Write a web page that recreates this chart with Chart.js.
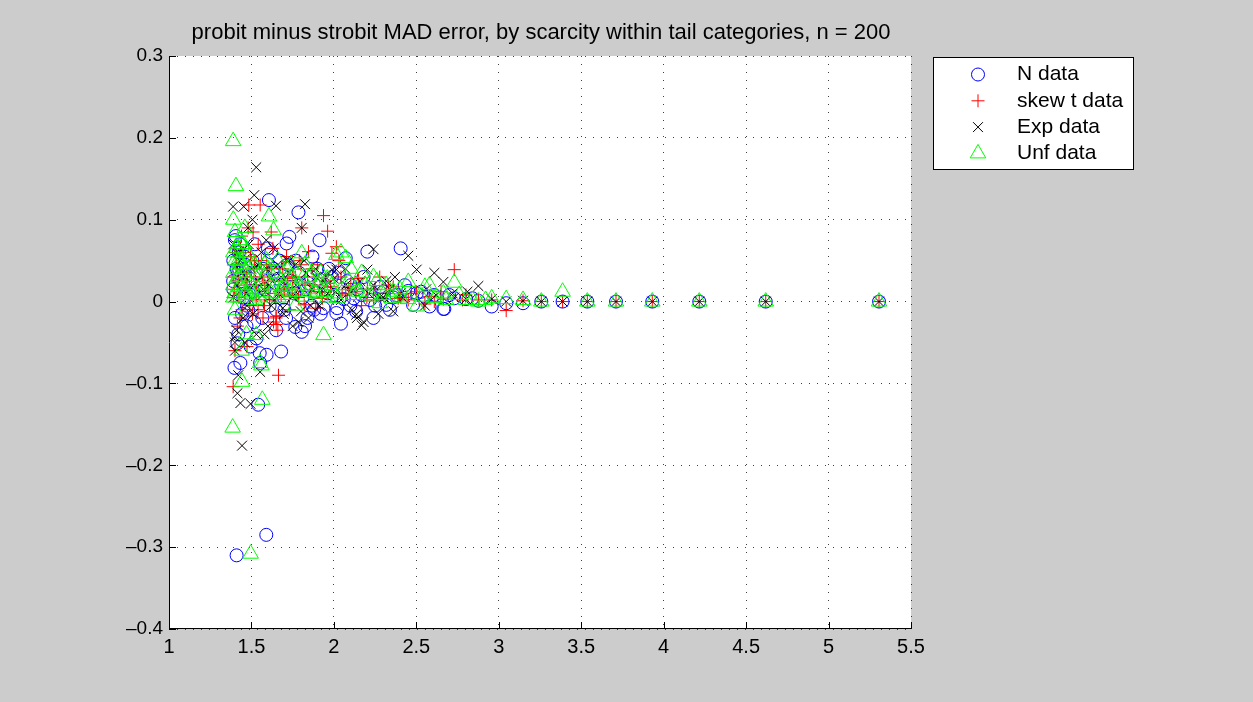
<!DOCTYPE html>
<html>
<head>
<meta charset="utf-8">
<title>probit minus strobit MAD error</title>
<script src="https://cdn.jsdelivr.net/npm/chart.js@4.4.1/dist/chart.umd.min.js"></script>
<style>
  html, body { margin: 0; padding: 0; background: #cccccc; }
  #wrap { width: 1253px; height: 702px; }
</style>
</head>
<body>
<div id="wrap"><canvas id="madChart"></canvas></div>
<script>
// scarcity of each tail category (x positions of the columns)
const scarcity = [
  5.306, 4.619, 4.216, 3.931, 3.711, 3.537, 3.387, 3.258, 3.147, 3.045,
  2.957, 2.876, 2.801, 2.730, 2.664, 2.609, 2.552, 2.502, 2.451, 2.405,
  2.360, 2.318, 2.278, 2.240, 2.203, 2.168, 2.135, 2.103, 2.072, 2.043,
  2.015, 1.988, 1.962, 1.937, 1.913, 1.890, 1.868, 1.846, 1.825, 1.805,
  1.785, 1.766, 1.748, 1.730, 1.713, 1.696, 1.680, 1.664, 1.649, 1.634,
  1.620, 1.606, 1.592, 1.579, 1.566, 1.553, 1.541, 1.529, 1.517, 1.506,
  1.495, 1.484, 1.473, 1.463, 1.453, 1.443, 1.433, 1.424, 1.415, 1.406,
  1.397, 1.389
];

// MAD error difference per column, one array per generating distribution
const nDataY = [
  0, 0, 0, 0, 0, 0, 0, 0, -0.002, -0.002,
  -0.006, 0.001, 0.003, 0.004, -0.009, 0.008, 0.006, 0.010, 0.013, 0.065,
  0.005, -0.004, 0.012, -0.020, 0.061, 0.008, -0.012, 0.020, 0.053, -0.027,
  -0.014, 0.030, 0.010, -0.008, 0.075, 0.012, -0.005, 0.022, -0.030, -0.037,
  0.109, -0.031, 0.018, 0.079, 0.071, 0.005, -0.061, 0.028, -0.010, 0.040,
  0.060, 0.124, -0.065, 0.015, -0.020, -0.075, -0.126, 0.035, -0.025, 0.050,
  -0.055, 0.010, -0.005, 0.045, 0.020, -0.015, -0.075, 0.060, -0.051, 0.080,
  -0.081, 0.025
];
const skewTY = [
  0, 0, 0, 0, 0, 0, 0, 0, 0.001, -0.011,
  0.002, 0.002, 0.008, 0.039, 0.003, 0.000, -0.003, 0.012, 0.002, 0.005,
  0.018, 0.010, 0.030, 0.002, 0.015, -0.005, 0.012, 0.022, 0.008, 0.030,
  0.067, 0.059, 0.086, 0.105, 0.012, -0.008, 0.040, 0.061, 0.020, 0.090,
  0.005, 0.030, 0.015, -0.010, 0.055, 0.025, 0.008, -0.090, -0.020, -0.025,
  0.085, 0.010, 0.045, -0.005, 0.030, 0.118, 0.070, 0.002, 0.040, -0.015,
  0.055, 0.118, -0.055, 0.020, 0.035, -0.010, 0.065, 0.005, -0.030, 0.045,
  0.015, -0.104
];
const expY = [
  0, 0, 0, 0, 0, 0, 0, 0, 0.001, 0.000,
  0.003, 0.019, 0.003, 0.005, 0.024, 0.035, -0.005, 0.039, 0.056, 0.010,
  -0.012, 0.025, 0.005, 0.064, 0.039, -0.029, -0.016, 0.012, 0.020, 0.002,
  0.039, 0.039, 0.010, 0.025, -0.005, 0.030, 0.015, -0.020, 0.119, 0.090,
  -0.025, 0.045, 0.006, 0.050, 0.051, -0.015, 0.030, 0.010, 0.117, 0.065,
  -0.005, 0.020, 0.040, -0.040, 0.008, -0.086, 0.025, 0.164, 0.130, 0.100,
  -0.125, 0.070, -0.005, 0.030, 0.116, -0.176, -0.124, 0.040, -0.112, 0.060,
  -0.043, 0.116
];
const unfY = [
  0, 0, 0, 0, 0, 0, 0.012, 0, 0.002, 0.003,
  0.004, 0.000, 0.002, 0.023, 0.010, 0.004, 0.018, -0.006, 0.024, 0.005,
  0.012, 0.020, -0.002, 0.030, 0.008, 0.035, 0.015, 0.040, 0.053, 0.060,
  0.057, 0.020, 0.005, -0.041, 0.025, 0.010, 0.035, 0.015, 0.045, 0.059,
  0.020, -0.005, 0.030, 0.012, 0.040, 0.018, 0.025, 0.005, 0.035, 0.087,
  0.020, 0.104, 0.050, 0.030, -0.120, -0.075, 0.015, -0.041, 0.045, 0.010,
  -0.308, 0.025, 0.060, 0.008, 0.070, -0.098, 0.050, 0.030, 0.040, 0.141,
  0.010, 0.196
];

// further points (scarcity, difference), mostly in the crowded low-scarcity area
const nExtra = [
  [1.41, -0.31], [1.59, -0.285], [1.40, 0.075], [1.42, 0.035], [1.45, 0.005],
  [1.49, 0.028], [1.55, -0.063], [1.60, 0.065], [1.68, 0.02], [1.72, 0.045],
  [1.76, 0.01], [1.81, 0.005], [1.86, 0.03], [1.95, 0.015], [2.00, 0.008],
  [2.06, 0.003], [2.14, 0.015], [2.25, -0.005], [2.30, 0.012], [1.39, 0.05],
  [1.43, 0.07], [1.47, -0.03], [1.52, 0.07], [1.57, 0.04], [1.65, -0.035],
  [1.70, -0.01], [1.77, 0.05], [1.84, -0.02], [1.90, 0.04], [2.03, 0.035],
  [2.10, -0.005], [1.88, -0.01], [2.67, -0.009],
  [1.39, 0.015], [1.40, -0.02], [1.41, 0.04], [1.42, -0.04], [1.44, 0.025],
  [1.46, 0.055], [1.48, -0.01], [1.51, 0.012], [1.53, -0.045], [1.56, 0.02],
  [1.61, -0.005], [1.63, 0.035], [1.67, 0.05], [1.71, -0.02], [1.74, 0.025],
  [1.79, 0.035], [1.83, 0.015], [1.87, 0.055], [1.92, -0.015], [1.97, 0.04],
  [2.02, -0.008], [2.08, 0.025], [2.12, 0.004], [2.18, 0.03], [2.22, 0.002],
  [2.28, 0.018], [2.34, -0.01], [2.38, 0.008], [2.43, 0.02], [2.48, -0.004],
  [2.53, 0.012], [2.58, -0.006], [2.70, 0.008], [2.84, 0.004]
];
const skewTExtra = [
  [1.65, -0.018], [1.65, -0.028], [1.66, -0.035], [1.40, 0.06], [1.40, -0.06],
  [1.42, 0.025], [1.44, 0.08], [1.46, 0.01], [1.50, 0.03], [1.54, -0.01],
  [1.58, 0.02], [1.62, 0.04], [1.70, 0.015], [1.75, 0.03], [1.80, 0.045],
  [1.88, 0.02], [1.95, 0.025], [2.05, 0.01], [2.20, 0.005], [1.39, 0.03],
  [1.48, 0.09], [1.52, 0.05], [1.57, -0.02], [1.61, 0.002], [1.73, 0.006],
  [1.82, -0.004],
  [1.39, 0.005], [1.41, 0.045], [1.43, -0.02], [1.45, 0.06], [1.47, 0.03],
  [1.49, -0.005], [1.51, 0.085], [1.53, 0.02], [1.56, 0.05], [1.60, 0.025],
  [1.63, 0.065], [1.67, 0.012], [1.69, 0.04], [1.72, 0.028], [1.77, 0.008],
  [1.79, 0.05], [1.84, 0.03], [1.86, 0.012], [1.90, 0.045], [1.93, 0.004],
  [1.98, 0.018], [2.03, 0.05], [2.09, 0.015], [2.15, 0.028], [2.25, 0.015],
  [2.33, 0.02], [2.39, 0.004], [2.47, 0.01], [2.58, 0.006], [2.65, 0.012],
  [2.78, 0.002]
];
const expExtra = [
  [1.40, -0.06], [1.40, -0.05], [1.41, 0.02], [1.43, 0.05], [1.45, -0.02],
  [1.47, 0.01], [1.50, 0.04], [1.53, -0.04], [1.56, 0.06], [1.60, -0.03],
  [1.64, 0.002], [1.70, 0.02], [1.75, -0.03], [1.80, -0.012], [1.83, 0.035],
  [1.92, 0.015], [2.00, 0.028], [2.14, -0.02], [2.18, -0.025], [2.21, 0.01],
  [2.30, 0.005], [1.39, 0.07], [1.42, -0.09], [1.48, 0.09],
  [1.39, 0.005], [1.41, -0.035], [1.42, 0.06], [1.44, 0.035], [1.46, -0.05],
  [1.49, 0.015], [1.51, -0.015], [1.54, 0.045], [1.57, 0.015], [1.59, 0.075],
  [1.62, 0.03], [1.66, 0.045], [1.69, -0.008], [1.73, 0.035], [1.77, 0.02],
  [1.82, 0.05], [1.86, -0.005], [1.89, 0.04], [1.95, 0.03], [2.01, 0.012],
  [2.07, 0.04], [2.11, -0.01], [2.16, 0.025], [2.24, 0.02], [2.27, -0.015],
  [2.34, 0.015], [2.37, 0.03], [2.42, 0.004], [2.56, 0.015], [2.62, 0.008],
  [2.72, 0.01], [2.81, 0.012]
];
const unfExtra = [
  [1.386, -0.154], [1.39, 0.035], [1.39, 0.02], [1.40, 0.05], [1.40, -0.01],
  [1.41, 0.065], [1.42, 0.005], [1.43, 0.075], [1.44, 0.045], [1.45, 0.015],
  [1.46, 0.09], [1.48, 0.04], [1.50, 0.02], [1.55, 0.005], [1.58, 0.045],
  [1.62, 0.01], [1.68, 0.015], [1.72, 0.03], [1.78, 0.012], [1.85, 0.03],
  [1.90, 0.02], [1.94, 0.012], [2.00, 0.01], [2.06, 0.02], [2.15, 0.012],
  [2.30, 0.008], [1.56, -0.078], [1.44, -0.06], [1.47, -0.04], [1.39, 0.10],
  [1.39, 0.06], [1.39, 0.005], [1.40, 0.085], [1.41, 0.028], [1.42, 0.05],
  [1.43, 0.018], [1.44, 0.07], [1.45, 0.035], [1.47, 0.012], [1.49, 0.055],
  [1.51, 0.035], [1.52, 0.002], [1.54, 0.03], [1.57, 0.012], [1.60, 0.04],
  [1.64, 0.02], [1.66, 0.05], [1.70, 0.008], [1.74, 0.045], [1.76, 0.02],
  [1.81, 0.028], [1.83, 0.006], [1.88, 0.012], [1.92, 0.035], [1.96, 0.028],
  [2.02, 0.004], [2.09, 0.025], [2.12, 0.008], [2.19, 0.02], [2.23, 0.006],
  [2.26, 0.025], [2.35, 0.004], [2.40, 0.015], [2.45, 0.003], [2.53, 0.006],
  [2.58, 0.02], [2.62, 0.005], [2.68, 0.002], [2.76, 0.008], [2.84, 0.002],
  [2.92, 0.002]
];

const xTickValues = [1, 1.5, 2, 2.5, 3, 3.5, 4, 4.5, 5, 5.5];
const yTickValues = [-0.4, -0.3, -0.2, -0.1, 0, 0.1, 0.2, 0.3];

const titleText = 'probit minus strobit MAD error, by scarcity within tail categories, n = 200';
const FONT = '"Liberation Sans", Arial, Helvetica, sans-serif';

function toPoints(ys, extra) {
  return scarcity.map((x, i) => ({ x: x, y: ys[i] }))
    .concat(extra.map(p => ({ x: p[0], y: p[1] })));
}

function fmt(v) {
  const r = Math.round(v * 10) / 10;
  return r < 0 ? '\u2013' + Math.abs(r) : String(r);
}

function drawMarker(ctx, style, r, color, x, y) {
  ctx.save();
  ctx.strokeStyle = color;
  ctx.lineWidth = 1;
  ctx.beginPath();
  if (style === 'circle') {
    ctx.arc(x, y, r, 0, Math.PI * 2);
  } else if (style === 'cross') {
    ctx.moveTo(x - r, y); ctx.lineTo(x + r, y);
    ctx.moveTo(x, y - r); ctx.lineTo(x, y + r);
  } else if (style === 'crossRot') {
    const d = r * Math.SQRT1_2;
    ctx.moveTo(x - d, y - d); ctx.lineTo(x + d, y + d);
    ctx.moveTo(x - d, y + d); ctx.lineTo(x + d, y - d);
  } else if (style === 'triangle') {
    ctx.moveTo(x, y - r);
    ctx.lineTo(x + 0.866 * r, y + r / 2);
    ctx.lineTo(x - 0.866 * r, y + r / 2);
    ctx.closePath();
  }
  ctx.stroke();
  ctx.restore();
}

// gray figure, white axes
const backgroundPlugin = {
  id: 'figureBackground',
  beforeDraw(chart) {
    const { ctx, chartArea: a } = chart;
    ctx.save();
    ctx.fillStyle = '#cccccc';
    ctx.fillRect(0, 0, chart.width, chart.height);
    ctx.fillStyle = '#ffffff';
    ctx.fillRect(a.left, a.top, a.right - a.left, a.bottom - a.top);
    ctx.restore();
  }
};

// left/bottom axis lines with inward ticks
const axesPlugin = {
  id: 'inwardAxes',
  beforeDatasetsDraw(chart) {
    const { ctx, chartArea: a, scales } = chart;
    ctx.save();
    ctx.strokeStyle = '#000';
    ctx.lineWidth = 1;
    ctx.beginPath();
    ctx.moveTo(a.left + 0.5, a.top);
    ctx.lineTo(a.left + 0.5, a.bottom);
    ctx.moveTo(a.left, a.bottom - 0.5);
    ctx.lineTo(a.right, a.bottom - 0.5);
    xTickValues.forEach(v => {
      const px = Math.round(scales.x.getPixelForValue(v)) + 0.5;
      ctx.moveTo(px, a.bottom);
      ctx.lineTo(px, a.bottom - 7);
    });
    yTickValues.forEach(v => {
      const py = Math.round(scales.y.getPixelForValue(v)) + 0.5;
      ctx.moveTo(a.left, py);
      ctx.lineTo(a.left + 7, py);
    });
    ctx.stroke();
    ctx.restore();
  }
};

// title and boxed legend
const annotatePlugin = {
  id: 'titleAndLegend',
  afterDraw(chart) {
    const { ctx, chartArea: a } = chart;
    ctx.save();
    ctx.fillStyle = '#000';
    ctx.font = '22px ' + FONT;
    ctx.textAlign = 'center';
    ctx.textBaseline = 'middle';
    ctx.fillText(titleText, (a.left + a.right) / 2 + 1, 33);

    ctx.fillStyle = '#ffffff';
    ctx.fillRect(933, 57, 200, 112);
    ctx.strokeStyle = '#000';
    ctx.lineWidth = 1;
    ctx.strokeRect(933.5, 57.5, 200, 112);
    ctx.font = '21px ' + FONT;
    chart.data.datasets.forEach((ds, i) => {
      const y = 74.5 + i * 26.3;
      drawMarker(ctx, ds.pointStyle, ds.pointRadius, ds.borderColor, 978, y);
      ctx.fillStyle = '#000';
      ctx.textAlign = 'left';
      ctx.fillText(ds.label, 1017, y);
    });
    ctx.restore();
  }
};

new Chart(document.getElementById('madChart'), {
  type: 'scatter',
  data: {
    datasets: [
      { label: 'N data', data: toPoints(nDataY, nExtra), pointStyle: 'circle', pointRadius: 6.5,
        borderColor: '#0000ff', backgroundColor: 'rgba(0,0,0,0)', borderWidth: 1, order: 4 },
      { label: 'skew t data', data: toPoints(skewTY, skewTExtra), pointStyle: 'cross', pointRadius: 6.5,
        borderColor: '#ff0000', backgroundColor: 'rgba(0,0,0,0)', borderWidth: 1, order: 3 },
      { label: 'Exp data', data: toPoints(expY, expExtra), pointStyle: 'crossRot', pointRadius: 7,
        borderColor: '#000000', backgroundColor: 'rgba(0,0,0,0)', borderWidth: 1, order: 2 },
      { label: 'Unf data', data: toPoints(unfY, unfExtra), pointStyle: 'triangle', pointRadius: 9,
        borderColor: '#00ff00', backgroundColor: 'rgba(0,0,0,0)', borderWidth: 1, order: 1 }
    ]
  },
  options: {
    responsive: true,
    maintainAspectRatio: false,
    animation: false,
    events: [],
    layout: { padding: { left: 0, right: 342, top: 56, bottom: 0 } },
    plugins: {
      legend: { display: false },
      tooltip: { enabled: false },
      title: { display: false }
    },
    scales: {
      x: {
        type: 'linear',
        min: 1,
        max: 5.5,
        afterBuildTicks: s => { s.ticks = xTickValues.map(v => ({ value: v })); },
        afterFit: s => { s.height = 73; },
        grid: { color: 'rgba(30,30,30,0.85)', lineWidth: 1, drawTicks: false },
        border: { display: false, dash: [1, 7] },
        ticks: { color: '#000', padding: 6, font: { family: FONT, size: 20 }, callback: v => fmt(v), maxRotation: 0 }
      },
      y: {
        type: 'linear',
        min: -0.4,
        max: 0.3,
        afterBuildTicks: s => { s.ticks = yTickValues.map(v => ({ value: v })); },
        afterFit: s => { s.width = 169; },
        grid: { color: 'rgba(30,30,30,0.85)', lineWidth: 1, drawTicks: false },
        border: { display: false, dash: [1, 7] },
        ticks: { color: '#000', padding: 6, font: { family: FONT, size: 19 }, callback: v => fmt(v) }
      }
    }
  },
  plugins: [backgroundPlugin, axesPlugin, annotatePlugin]
});
</script>
</body>
</html>
